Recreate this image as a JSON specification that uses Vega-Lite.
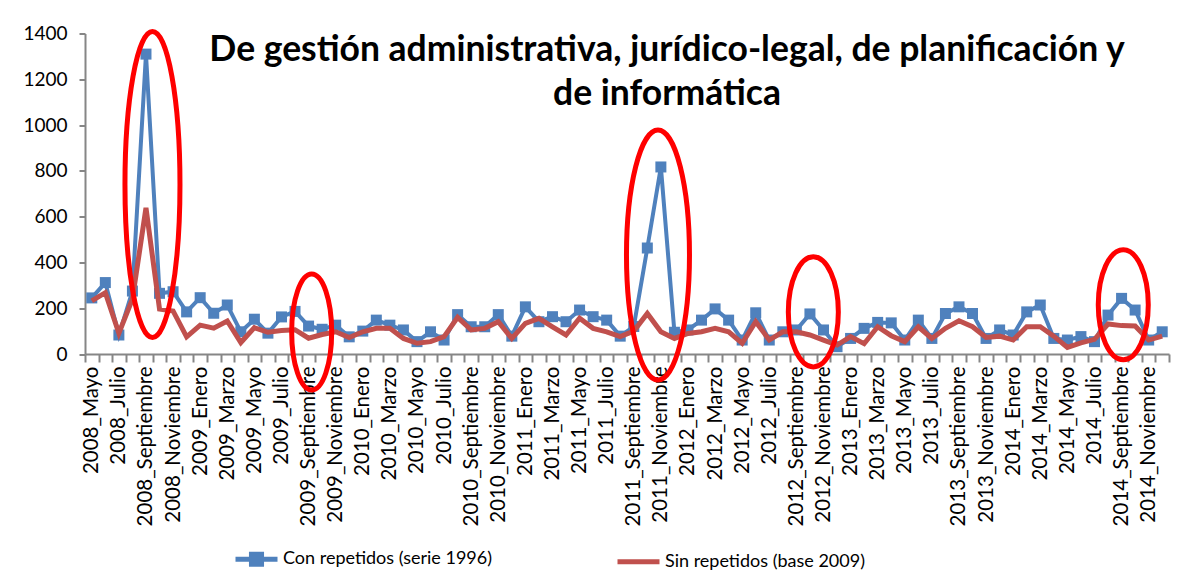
{
  "$schema": "https://vega.github.io/schema/vega-lite/v6.json",
  "width": 1084,
  "height": 320.5,
  "autosize": "none",
  "padding": {"left": 85, "top": 33.5, "right": 10, "bottom": 228},
  "background": "white",
  "title": {
    "text": ["De gestión administrativa, jurídico-legal, de planificación y", "de informática"],
    "font": "Lato",
    "fontSize": 35.5,
    "fontWeight": "bold",
    "color": "black",
    "anchor": "middle",
    "frame": "group",
    "baseline": "top",
    "offset": 0,
    "dx": 40,
    "dy": 91,
    "lineHeight": 44
  },
  "data": {
    "values": [
      {"mes": "2008_Mayo", "con": 245, "sin": 232},
      {"mes": "2008_Junio", "con": 312, "sin": 268},
      {"mes": "2008_Julio", "con": 83, "sin": 91},
      {"mes": "2008_Agosto", "con": 275, "sin": 240},
      {"mes": "2008_Septiembre", "con": 1310, "sin": 638, "elipse": 740, "forma": "e1"},
      {"mes": "2008_Octubre", "con": 265, "sin": 196},
      {"mes": "2008_Noviembre", "con": 272, "sin": 188},
      {"mes": "2008_Diciembre", "con": 184, "sin": 75},
      {"mes": "2009_Enero", "con": 246, "sin": 126},
      {"mes": "2009_Febrero", "con": 178, "sin": 113},
      {"mes": "2009_Marzo", "con": 214, "sin": 144},
      {"mes": "2009_Abril", "con": 97, "sin": 50},
      {"mes": "2009_Mayo", "con": 152, "sin": 115},
      {"mes": "2009_Junio", "con": 91, "sin": 95},
      {"mes": "2009_Julio", "con": 162, "sin": 103},
      {"mes": "2009_Agosto", "con": 186, "sin": 106},
      {"mes": "2009_Septiembre", "con": 122, "sin": 69, "elipse": 96, "forma": "e2"},
      {"mes": "2009_Octubre", "con": 108, "sin": 85},
      {"mes": "2009_Noviembre", "con": 126, "sin": 97},
      {"mes": "2009_Diciembre", "con": 75, "sin": 72},
      {"mes": "2010_Enero", "con": 100, "sin": 97},
      {"mes": "2010_Febrero", "con": 148, "sin": 112},
      {"mes": "2010_Marzo", "con": 126, "sin": 112},
      {"mes": "2010_Abril", "con": 105, "sin": 68},
      {"mes": "2010_Mayo", "con": 54, "sin": 47},
      {"mes": "2010_Junio", "con": 97, "sin": 54},
      {"mes": "2010_Julio", "con": 61, "sin": 76},
      {"mes": "2010_Agosto", "con": 172, "sin": 160},
      {"mes": "2010_Septiembre", "con": 119, "sin": 105},
      {"mes": "2010_Octubre", "con": 119, "sin": 112},
      {"mes": "2010_Noviembre", "con": 172, "sin": 141},
      {"mes": "2010_Diciembre", "con": 78, "sin": 68},
      {"mes": "2011_Enero", "con": 206, "sin": 134},
      {"mes": "2011_Febrero", "con": 141, "sin": 156},
      {"mes": "2011_Marzo", "con": 163, "sin": 119},
      {"mes": "2011_Abril", "con": 141, "sin": 83},
      {"mes": "2011_Mayo", "con": 192, "sin": 156},
      {"mes": "2011_Junio", "con": 163, "sin": 112},
      {"mes": "2011_Julio", "con": 148, "sin": 97},
      {"mes": "2011_Agosto", "con": 78, "sin": 76},
      {"mes": "2011_Septiembre", "con": 120, "sin": 100},
      {"mes": "2011_Octubre", "con": 463, "sin": 177},
      {"mes": "2011_Noviembre", "con": 817, "sin": 97, "elipse": 432, "forma": "e3"},
      {"mes": "2011_Diciembre", "con": 95, "sin": 68},
      {"mes": "2012_Enero", "con": 105, "sin": 90},
      {"mes": "2012_Febrero", "con": 148, "sin": 97},
      {"mes": "2012_Marzo", "con": 197, "sin": 112},
      {"mes": "2012_Abril", "con": 148, "sin": 97},
      {"mes": "2012_Mayo", "con": 61, "sin": 47},
      {"mes": "2012_Junio", "con": 180, "sin": 141},
      {"mes": "2012_Julio", "con": 61, "sin": 61},
      {"mes": "2012_Agosto", "con": 97, "sin": 97},
      {"mes": "2012_Septiembre", "con": 105, "sin": 97},
      {"mes": "2012_Octubre", "con": 175, "sin": 83, "elipse": 184, "forma": "e4"},
      {"mes": "2012_Noviembre", "con": 105, "sin": 61},
      {"mes": "2012_Diciembre", "con": 32, "sin": 39},
      {"mes": "2013_Enero", "con": 68, "sin": 76},
      {"mes": "2013_Febrero", "con": 112, "sin": 45},
      {"mes": "2013_Marzo", "con": 138, "sin": 119},
      {"mes": "2013_Abril", "con": 136, "sin": 80},
      {"mes": "2013_Mayo", "con": 61, "sin": 54},
      {"mes": "2013_Junio", "con": 148, "sin": 119},
      {"mes": "2013_Julio", "con": 68, "sin": 68},
      {"mes": "2013_Agosto", "con": 177, "sin": 112},
      {"mes": "2013_Septiembre", "con": 206, "sin": 145},
      {"mes": "2013_Octubre", "con": 177, "sin": 119},
      {"mes": "2013_Noviembre", "con": 68, "sin": 72},
      {"mes": "2013_Diciembre", "con": 105, "sin": 78},
      {"mes": "2014_Enero", "con": 83, "sin": 61},
      {"mes": "2014_Febrero", "con": 184, "sin": 119},
      {"mes": "2014_Marzo", "con": 214, "sin": 119},
      {"mes": "2014_Abril", "con": 68, "sin": 78},
      {"mes": "2014_Mayo", "con": 61, "sin": 29},
      {"mes": "2014_Junio", "con": 76, "sin": 49},
      {"mes": "2014_Julio", "con": 54, "sin": 64},
      {"mes": "2014_Agosto", "con": 170, "sin": 131},
      {"mes": "2014_Septiembre", "con": 243, "sin": 124, "elipse": 215, "forma": "e5"},
      {"mes": "2014_Octubre", "con": 192, "sin": 122},
      {"mes": "2014_Noviembre", "con": 61, "sin": 61},
      {"mes": "2014_Diciembre", "con": 97, "sin": 78}
    ]
  },
  "encoding": {
    "x": {
      "field": "mes",
      "type": "ordinal",
      "sort": null,
      "title": null,
      "scale": {"type": "band", "paddingInner": 0, "paddingOuter": 0},
      "axis": {
        "labelAngle": -90,
        "labelOverlap": "parity",
        "tickBand": "extent",
        "tickSize": 8,
        "tickWidth": 2,
        "tickColor": "#868686",
        "domainColor": "#868686",
        "domainWidth": 2,
        "labelFont": "Lato",
        "labelFontSize": 20.5,
        "labelColor": "black",
        "labelPadding": 4
      }
    }
  },
  "layer": [
    {
      "mark": {"type": "line", "strokeWidth": 4},
      "encoding": {
        "y": {
          "field": "con",
          "type": "quantitative",
          "title": null,
          "scale": {"domain": [0, 1400], "nice": false},
          "axis": {
            "values": [0, 200, 400, 600, 800, 1000, 1200, 1400],
            "format": "d",
            "grid": false,
            "tickSize": 6,
            "tickWidth": 2,
            "tickColor": "#868686",
            "domainColor": "#868686",
            "domainWidth": 2,
            "labelFont": "Lato",
            "labelFontSize": 19,
            "labelColor": "black",
            "labelPadding": 12
          }
        },
        "color": {
          "datum": "Con repetidos (serie 1996)",
          "scale": {
            "domain": ["Con repetidos (serie 1996)", "Sin repetidos (base 2009)"],
            "range": ["#4F81BD", "#C0504D"]
          },
          "legend": {
            "orient": "none",
            "legendX": 148,
            "legendY": 502,
            "direction": "horizontal",
            "title": null,
            "symbolType": "stroke",
            "symbolSize": 1764,
            "symbolStrokeWidth": 5,
            "labelFont": "Lato",
            "labelFontSize": 18,
            "labelColor": "black",
            "labelOffset": 3,
            "columnPadding": 114,
            "labelLimit": 400,
            "encode": {
              "symbols": {
                "update": {
                  "shape": {"signal": "datum.value == 'Con repetidos (serie 1996)' ? 'M-1,0H1M-0.24,-0.24H0.24V0.24H-0.24Z' : 'M-1,0H1'"},
                  "fill": {"signal": "datum.value == 'Con repetidos (serie 1996)' ? '#4F81BD' : 'transparent'"}
                }
              }
            }
          }
        }
      }
    },
    {
      "mark": {"type": "point", "shape": "square", "filled": true, "size": 121, "color": "#4F81BD", "opacity": 1},
      "encoding": {
        "y": {"field": "con", "type": "quantitative", "title": null}
      }
    },
    {
      "mark": {"type": "line", "strokeWidth": 5},
      "encoding": {
        "y": {"field": "sin", "type": "quantitative", "title": null},
        "color": {"datum": "Sin repetidos (base 2009)"}
      }
    },
    {
      "transform": [{"filter": "isValid(datum.elipse)"}],
      "mark": {"type": "point", "filled": false, "stroke": "#FF0000", "strokeWidth": 5, "size": 102400, "opacity": 1},
      "encoding": {
        "y": {"field": "elipse", "type": "quantitative", "title": null},
        "shape": {
          "field": "forma",
          "type": "nominal",
          "legend": null,
          "scale": {
            "domain": ["e1", "e2", "e3", "e4", "e5"],
            "range": [
              "M0.0406,-0.9563A0.1719,0.9563,0,1,1,0.0406,0.9563A0.1719,0.9563,0,1,1,0.0406,-0.9563Z",
              "M0.0194,-0.3625A0.125,0.3625,0,1,1,0.0194,0.3625A0.125,0.3625,0,1,1,0.0194,-0.3625Z",
              "M-0.0181,-0.7813A0.1969,0.7813,0,1,1,-0.0181,0.7813A0.1969,0.7813,0,1,1,-0.0181,-0.7813Z",
              "M0.0213,-0.3438A0.1563,0.3438,0,1,1,0.0213,0.3438A0.1563,0.3438,0,1,1,0.0213,-0.3438Z",
              "M0.0106,-0.3438A0.1563,0.3438,0,1,1,0.0106,0.3438A0.1563,0.3438,0,1,1,0.0106,-0.3438Z"
            ]
          }
        }
      }
    }
  ],
  "config": {
    "view": {"stroke": null}
  }
}
